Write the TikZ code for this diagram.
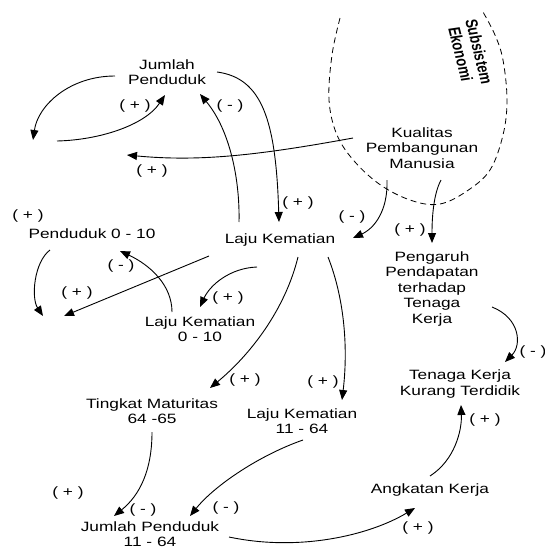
\documentclass[tikz,border=0pt]{standalone}
\usepackage{fontspec}
\setmainfont{Liberation Sans}[FakeStretch=1.28]
\newfontfamily\subfont{Liberation Sans}
\usetikzlibrary{arrows.meta,calc}
\tikzset{
  txt/.style={inner sep=0pt, align=center, font=\fontsize{13.5}{15.5}\selectfont},
  sgn/.style={inner sep=0pt, font=\fontsize{13.5}{15.5}\selectfont},
  arr/.style={line width=0.9pt, -{Triangle[length=10pt,width=8pt]}},
  bnd/.style={line width=0.8pt, dash pattern=on 6pt off 4pt},
}
\begin{document}
\begin{tikzpicture}[x=1pt,y=-1pt]
\useasboundingbox (0,0) rectangle (545,549);
\fill[white] (0,0) rectangle (545,549);
% boundary
\draw[bnd] plot[smooth, tension=0.6] coordinates {(340,18) (332,55) (329,100) (337,135) (355,162) (382,186) (413,201) (440,204) (467,191) (490,170) (503,135) (507,100) (503,60) (495,35) (483,12)};
% nodes
\node[txt] (jp) at (167,72) {Jumlah\\Penduduk};
\node[txt] (kpm) at (422,148) {Kualitas\\Pembangunan\\Manusia};
\begin{scope}[shift={(470,53)}, xscale=1.3]
\node[transform shape, inner sep=0pt, align=center, rotate=-79, font=\subfont\bfseries\fontsize{13}{14.5}\selectfont] (sub) at (0,0) {Subsistem\\Ekonomi};
\end{scope}
\node[txt] (p010) at (92,234) {Penduduk 0 - 10};
\node[txt] (lk) at (280,240) {Laju Kematian};
\node[txt] (lk010) at (200,329) {Laju Kematian\\0 - 10};
\node[txt] (peng) at (432,289) {Pengaruh\\Pendapatan\\terhadap\\Tenaga\\Kerja};
\node[txt] (tkkt) at (460,384) {Tenaga Kerja\\Kurang Terdidik};
\node[txt] (tm) at (152,411) {Tingkat Maturitas\\64 -65};
\node[txt] (lk1164) at (302,421) {Laju Kematian\\11 - 64};
\node[txt] (jp1164) at (150,534) {Jumlah Penduduk\\11 - 64};
\node[txt] (ak) at (430,490) {Angkatan Kerja};
% free ends
\coordinate (c1a) at (33,140);
\coordinate (c1b) at (57,141);
\coordinate (c2) at (127,155);
\coordinate (c3a) at (43,316);
\coordinate (c3b) at (64,316);
% arrows
\draw[arr] ($(jp)+(50,0)$) .. controls (262,78) and (276,120) .. ($(lk)+(-1,-18)$);
\draw[arr] ($(lk)+(-41,-18)$) .. controls (240,180) and (230,130) .. ($(jp)+(33,22)$);
\draw[arr] ($(jp)+(-52,4)$) .. controls (70,76) and (38,105) .. (c1a);
\draw[arr] (c1b) .. controls (100,140) and (145,125) .. ($(jp)+(-2,23)$);
\draw[arr] ($(kpm)+(-69,-10)$) .. controls (260,155) and (200,162) .. (c2);
\draw[arr] ($(p010)+(-42,16)$) .. controls (34,262) and (31,298) .. (c3a);
\draw[arr] ($(lk)+(-71,16)$) -- (c3b);
\draw[arr] ($(lk010)+(-28,-17)$) .. controls (172,285) and (150,265) .. ($(p010)+(28,17)$);
\draw[arr] ($(lk)+(-23,27)$) .. controls (230,268) and (210,285) .. ($(lk010)+(0,-22)$);
\draw[arr] ($(lk)+(18,17)$) .. controls (285,310) and (250,355) .. ($(tm)+(58,-23)$);
\draw[arr] ($(lk)+(48,17)$) .. controls (345,300) and (348,350) .. ($(lk1164)+(40,-21)$);
\draw[arr] ($(kpm)+(-35,32)$) .. controls (388,210) and (375,228) .. ($(lk)+(73,-2)$);
\draw[arr] ($(kpm)+(19,32)$) .. controls (433,195) and (432,220) .. ($(peng)+(0,-46)$);
\draw[arr] ($(peng)+(60,18)$) .. controls (520,318) and (522,345) .. ($(tkkt)+(45,-22)$);
\draw[arr] ($(ak)+(0,-14)$) .. controls (455,460) and (462,430) .. ($(tkkt)+(1,21)$);
\draw[arr] ($(jp1164)+(79,3)$) .. controls (300,552) and (370,535) .. ($(ak)+(-15,18)$);
\draw[arr] ($(tm)+(0,21)$) .. controls (152,470) and (140,495) .. ($(jp1164)+(-36,-18)$);
\draw[arr] ($(lk1164)+(1,19)$) .. controls (260,455) and (215,485) .. ($(jp1164)+(40,-18)$);
% signs
\node[sgn] (s1) at (135,106) {( + )};
\node[sgn] (s2) at (230,106) {( - )};
\node[sgn] (s3) at (152,171) {( + )};
\node[sgn] (s4) at (298,203) {( + )};
\node[sgn] (s5) at (352,217) {( - )};
\node[sgn] (s6) at (410,230) {( + )};
\node[sgn] (s7) at (533,352) {( - )};
\node[sgn] (s8) at (28,216) {( + )};
\node[sgn] (s9) at (121,266) {( - )};
\node[sgn] (s10) at (77,293) {( + )};
\node[sgn] (s11) at (228,298) {( + )};
\node[sgn] (s12) at (245,380) {( + )};
\node[sgn] (s13) at (323,382) {( + )};
\node[sgn] (s14) at (485,420) {( + )};
\node[sgn] (s15) at (418,528) {( + )};
\node[sgn] (s16) at (68,493) {( + )};
\node[sgn] (s17) at (143,510) {( - )};
\node[sgn] (s18) at (226,508) {( - )};
\end{tikzpicture}
\end{document}
